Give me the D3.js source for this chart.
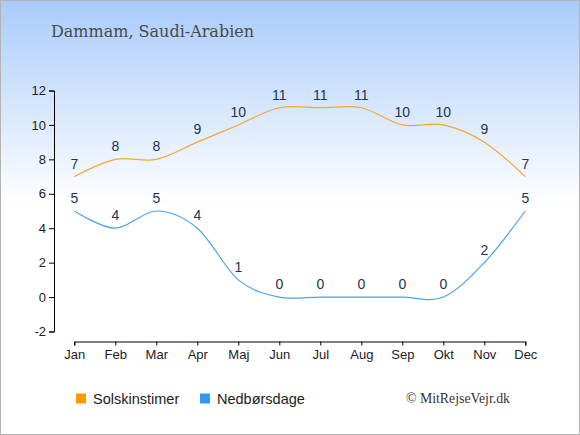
<!DOCTYPE html>
<html>
<head>
  <meta charset="utf-8">
  <title>Dammam</title>
  <style>
    html, body { margin: 0; padding: 0; }
    svg { display: block; }
    .tick text { font-family: 'Liberation Sans', Arial, sans-serif; font-size: 13px; fill: #222; }
  </style>
  <script src="https://cdn.jsdelivr.net/npm/d3@7"></script>
</head>
<body>
<svg id="chart" width="580" height="435"></svg>
<script>
  // data
  var months = ["Jan", "Feb", "Mar", "Apr", "Maj", "Jun", "Jul", "Aug", "Sep", "Okt", "Nov", "Dec"];
  var sunHours = [7, 8, 8, 9, 10, 11, 11, 11, 10, 10, 9, 7];
  var rainDays = [5, 4, 5, 4, 1, 0, 0, 0, 0, 0, 2, 5];
  var yTicks = [-2, 0, 2, 4, 6, 8, 10, 12];

  var svg = d3.select("#chart");

  var grad = svg.append("defs").append("linearGradient")
    .attr("id", "bg").attr("x1", 0).attr("y1", 0).attr("x2", 0).attr("y2", 1);
  grad.append("stop").attr("offset", "0").attr("stop-color", "#a9cbfb");
  grad.append("stop").attr("offset", "0.47").attr("stop-color", "#ffffff");
  grad.append("stop").attr("offset", "1").attr("stop-color", "#ffffff");

  svg.append("rect").attr("x", 0.5).attr("y", 0.5).attr("width", 579).attr("height", 434)
    .attr("fill", "url(#bg)").attr("stroke", "#b4b4b4");

  svg.append("text").attr("x", 51).attr("y", 37)
    .attr("font-family", "'DejaVu Serif', serif").attr("font-size", 16).attr("fill", "#4a4a4a")
    .text("Dammam, Saudi-Arabien");

  var x = d3.scalePoint().domain(months).range([74.3, 525.3]);
  var y = d3.scaleLinear().domain([-2, 12]).range([331.5, 90.5]);

  // axes
  svg.append("g").attr("transform", "translate(54,0)")
    .call(d3.axisLeft(y).tickValues(yTicks).tickSize(5).tickPadding(3)
      .tickFormat(function (d) { return String(d); }))
    .call(function (g) { g.select(".domain").attr("stroke", "#000"); });

  svg.append("g").attr("transform", "translate(0,341.5)")
    .call(d3.axisBottom(x).tickSize(4).tickSizeOuter(4).tickPadding(4))
    .call(function (g) { g.select(".domain").attr("stroke", "#000"); });

  var line = d3.line()
    .x(function (d, i) { return x(months[i]); })
    .y(function (d) { return y(d); })
    .curve(d3.curveCardinal);

  var series = [
    { values: sunHours, color: "#f8a530" },
    { values: rainDays, color: "#4aa3ee" }
  ];

  series.forEach(function (s) {
    svg.append("path").datum(s.values)
      .attr("d", line).attr("fill", "none")
      .attr("stroke", s.color).attr("stroke-width", 1.2);

    svg.append("g").selectAll("text").data(s.values).enter().append("text")
      .attr("x", function (d, i) { return x(months[i]); })
      .attr("y", function (d) { return y(d) - 8; })
      .attr("text-anchor", "middle")
      .attr("font-family", "'Liberation Sans', Arial, sans-serif")
      .attr("font-size", 14).attr("fill", "#243352")
      .text(function (d) { return d; });
  });

  // legend
  var legend = [
    { name: "Solskinstimer", color: "#ff9900", x: 76 },
    { name: "Nedbørsdage", color: "#3399ee", x: 200 }
  ];
  legend.forEach(function (l) {
    svg.append("rect").attr("x", l.x).attr("y", 393.5).attr("width", 10).attr("height", 10)
      .attr("fill", l.color);
    svg.append("text").attr("x", l.x + 17).attr("y", 403.5)
      .attr("font-family", "'Liberation Sans', Arial, sans-serif").attr("font-size", 14.5)
      .attr("fill", "#222").text(l.name);
  });

  svg.append("text").attr("x", 406).attr("y", 403)
    .attr("font-family", "'Liberation Serif', serif").attr("font-size", 13.8).attr("fill", "#333")
    .text("© MitRejseVejr.dk");
</script>
</body>
</html>
